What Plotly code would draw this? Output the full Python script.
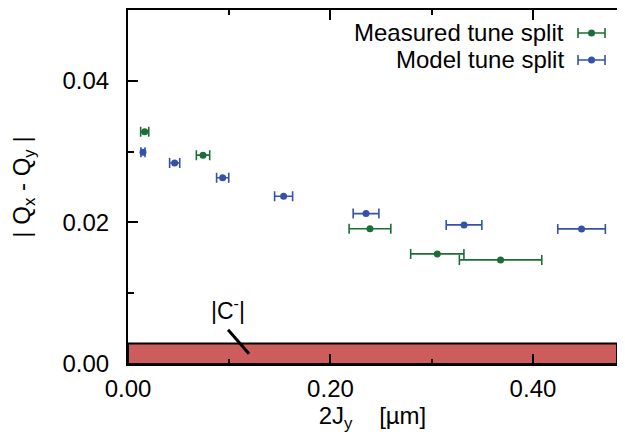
import plotly.graph_objects as go

# medidos (verde)
meas_x = [0.0165, 0.0741, 0.239, 0.3055, 0.368]
meas_y = [0.0328, 0.0295, 0.0191, 0.01555, 0.0147]
meas_xerr = [0.004, 0.0066, 0.0206, 0.0263, 0.0407]

# modelo (azul)
model_x = [0.0148, 0.0461, 0.0935, 0.1537, 0.2351, 0.3319, 0.448]
model_y = [0.0299, 0.0284, 0.0263, 0.0237, 0.02124, 0.01965, 0.01908]
model_xerr = [0.002, 0.005, 0.006, 0.0089, 0.0127, 0.0176, 0.0235]

c_minus = 0.0029  # |C-|

verde = "#1c6e36"
azul = "#3552a8"
rojo = "#cd5c5c"
fuente = "Liberation Sans, Arial, sans-serif"
tam = 24

fig = go.Figure()

fig.add_trace(go.Scatter(
    x=meas_x, y=meas_y, mode="markers",
    marker=dict(color=verde, size=7),
    error_x=dict(type="data", array=meas_xerr, color=verde, thickness=1.6, width=5),
    name="Measured tune split", showlegend=False,
))
fig.add_trace(go.Scatter(
    x=model_x, y=model_y, mode="markers",
    marker=dict(color=azul, size=7),
    error_x=dict(type="data", array=model_xerr, color=azul, thickness=1.6, width=5),
    name="Model tune split", showlegend=False,
))

# leyenda hecha a mano (texto a la izquierda, simbolo a la derecha)
leyenda = [("Measured tune split", verde, 0.9351), ("Model tune split", azul, 0.8589)]
for texto, col, yy in leyenda:
    fig.add_trace(go.Scatter(
        x=[0.9479], y=[yy], mode="markers", xaxis="x2", yaxis="y2",
        marker=dict(color=col, size=7),
        error_x=dict(type="data", array=[0.0276], color=col, thickness=1.6, width=5),
        showlegend=False, hoverinfo="skip",
    ))
    fig.add_annotation(
        x=0.896, y=yy, xref="x2", yref="y2", text=texto, showarrow=False,
        xanchor="right", yanchor="middle", font=dict(size=tam, color="black", family=fuente),
    )

# banda |C-|
fig.add_shape(
    type="rect", xref="x domain", yref="y", x0=0, x1=1, y0=0, y1=c_minus,
    fillcolor=rojo, line=dict(color="black", width=2), layer="below",
)
fig.add_shape(
    type="line", xref="x", yref="y", x0=0.0988, y0=0.00485, x1=0.1195, y1=0.00146,
    line=dict(color="black", width=3),
)
fig.add_annotation(
    x=0.0988, y=0.0077, text="|C<sup>-</sup>|", showarrow=False,
    font=dict(size=23, color="black", family=fuente),
)

ejes = dict(
    showline=True, linecolor="black", linewidth=2, ticks="inside", ticklen=10,
    tickwidth=1.5, tickcolor="black", showgrid=False, zeroline=False,
    tickfont=dict(size=tam, color="black", family=fuente),
)

# la pagina tiene 8px de margen en body: figura mas pequena para que no desborde
fig.update_layout(
    width=609, height=425,
    margin=dict(l=120, r=0, t=2, b=69),
    paper_bgcolor="white", plot_bgcolor="white",
    font=dict(family=fuente, color="black"),
    xaxis=dict(
        range=[0, 0.483], tickvals=[0, 0.2, 0.4], ticktext=["0.00", "0.20", "0.40"],
        mirror="ticks", ticklabelstandoff=2,
        minor=dict(tickvals=[0.1, 0.3], ticklen=5, tickcolor="black", tickwidth=1.5, ticks="inside"),
        title=dict(text="2J<sub>y</sub>\u00a0\u00a0\u00a0\u00a0[µm]", font=dict(size=tam), standoff=10),
        **ejes,
    ),
    yaxis=dict(
        range=[0, 0.05], tickvals=[0, 0.02, 0.04], ticktext=["0.00", "0.02", "0.04"],
        ticklabelstandoff=12,
        minor=dict(tickvals=[0.01, 0.03], ticklen=6, tickcolor="black", tickwidth=1.5, ticks="inside"),
        title=dict(text="| Q<sub>x</sub> - Q<sub>y</sub> |", font=dict(size=tam), standoff=33),
        **ejes,
    ),
    xaxis2=dict(range=[0, 1], overlaying="x", visible=False),
    yaxis2=dict(range=[0, 1], overlaying="y", visible=False),
)

fig.write_html("out.html")
